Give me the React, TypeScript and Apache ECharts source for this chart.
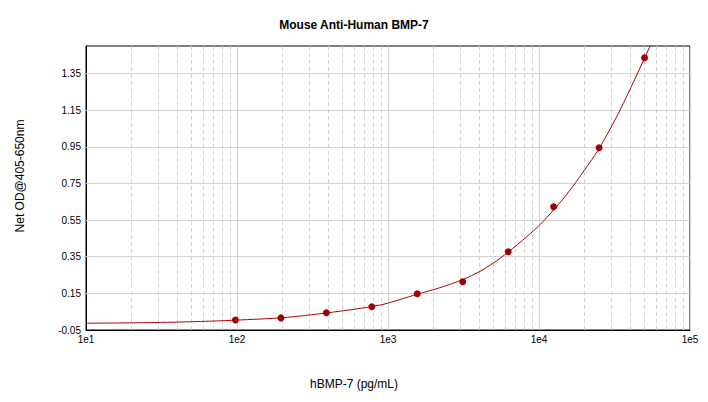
import { useEffect, useRef } from "react";
import * as echarts from "echarts";

// standards (pg/mL) and measured net OD
const stdConc = [97.66, 195.3, 390.6, 781.25, 1562.5, 3125, 6250, 12500, 25000, 50000];
const stdOD = [0.005, 0.016, 0.044, 0.077, 0.148, 0.213, 0.377, 0.623, 0.945, 1.436];

// fitted curve
const fitConc = [10, 20, 40, 70, 100, 200, 400, 885, 1562, 2208, 3125, 4064, 4977, 6250, 8270, 10150, 12500, 15250, 18200, 25000, 34400, 53700, 60000];
const fitOD = [-0.013, -0.011, -0.007, -0.001, 0.004, 0.017, 0.044, 0.086, 0.145, 0.181, 0.225, 0.27, 0.315, 0.375, 0.458, 0.525, 0.605, 0.69, 0.775, 0.94, 1.15, 1.49, 1.59];

const yTicks = [-0.05, 0.15, 0.35, 0.55, 0.75, 0.95, 1.15, 1.35];
const xMinor = [
  20, 30, 40, 50, 60, 70, 80, 90,
  200, 300, 400, 500, 600, 700, 800, 900,
  2000, 3000, 4000, 5000, 6000, 7000, 8000, 9000,
  20000, 30000, 40000, 50000, 60000, 70000, 80000, 90000,
];

const FONT = "'Liberation Sans', Arial, sans-serif";

export default function App() {
  const chartRef = useRef<HTMLDivElement>(null);

  useEffect(() => {
    if (!chartRef.current) return;
    const chart = echarts.init(chartRef.current, undefined, { renderer: "svg" });

    const option = {
      animation: false,
      backgroundColor: "#ffffff",
      textStyle: { fontFamily: FONT },
      title: {
        text: "Mouse Anti-Human BMP-7",
        left: "center",
        top: 14,
        textStyle: { fontSize: 12, fontWeight: "bold", color: "#000", fontFamily: FONT },
      },
      graphic: [
        {
          type: "text",
          x: 354,
          y: 384,
          style: {
            text: "hBMP-7 (pg/mL)",
            fontSize: 12,
            fontFamily: FONT,
            fill: "#000",
            align: "center",
            verticalAlign: "middle",
          },
        },
        {
          type: "text",
          x: 20,
          y: 176,
          rotation: Math.PI / 2,
          style: {
            text: "Net OD@405-650nm",
            fontSize: 12,
            fontFamily: FONT,
            fill: "#000",
            align: "center",
            verticalAlign: "middle",
          },
        },
      ],
      grid: {
        left: 86,
        right: 18,
        top: 46,
        bottom: 72,
        show: true,
        borderColor: "#000",
        borderWidth: 1,
        backgroundColor: "transparent",
      },
      xAxis: {
        type: "log",
        logBase: 10,
        min: 10,
        max: 100000,
        interval: 1,
        axisLine: { show: true, onZero: false, lineStyle: { color: "#000" } },
        axisTick: { show: false },
        axisLabel: {
          color: "#000",
          fontSize: 10,
          margin: 4,
          fontFamily: FONT,
          formatter: (v: number) => "1e" + Math.round(Math.log10(v)),
        },
        splitLine: { show: true, lineStyle: { color: "#d3d3d3", width: 1 } },
      },
      yAxis: {
        type: "value",
        min: -0.05,
        max: 1.5,
        axisLine: { show: true, onZero: false, lineStyle: { color: "#000" } },
        axisTick: { show: false },
        axisLabel: {
          color: "#000",
          fontSize: 10,
          margin: 5,
          fontFamily: FONT,
          customValues: yTicks,
          formatter: (v: number) => v.toFixed(2),
        },
        splitLine: { show: false },
      },
      series: [
        {
          name: "Fit",
          type: "line",
          data: fitConc.map((c, i) => [c, fitOD[i]]),
          smooth: 0.25,
          showSymbol: false,
          z: 3,
          lineStyle: { color: "#b00000", width: 1 },
          markLine: {
            silent: true,
            symbol: "none",
            z: 1,
            label: { show: false },
            emphasis: { disabled: true },
            data: [
              ...xMinor.map((v) => ({
                xAxis: v,
                lineStyle: { color: "#d3d3d3", type: [4, 3], width: 1 },
              })),
              ...yTicks.slice(1).map((v) => ({
                yAxis: v,
                lineStyle: { color: "#d3d3d3", type: "solid", width: 1 },
              })),
            ],
          },
        },
        {
          name: "Standards",
          type: "scatter",
          data: stdConc.map((c, i) => [c, stdOD[i]]),
          symbol: "circle",
          symbolSize: 7,
          z: 4,
          itemStyle: { color: "#a00000", opacity: 1 },
        },
      ],
    };

    chart.setOption(option);
    return () => {
      chart.dispose();
    };
  }, []);

  return <div ref={chartRef} style={{ width: 708, height: 402, margin: -8 }} />;
}
